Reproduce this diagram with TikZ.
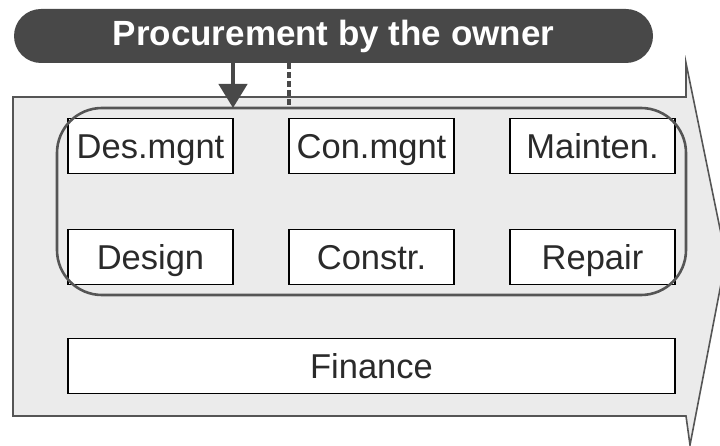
\documentclass[tikz,border=0pt]{standalone}
\usepackage{fontspec}
\setmainfont{Liberation Sans}
\usetikzlibrary{arrows.meta}
\definecolor{pill}{HTML}{484848}
\definecolor{arrowfill}{HTML}{EBEBEB}
\definecolor{edge}{HTML}{555555}
\definecolor{txt}{HTML}{2A2A2A}
\tikzset{
  unitbox/.style={draw=black, line width=1.4pt, fill=white, minimum width=165pt, minimum height=55pt, inner sep=0pt, text=txt, text height=24.5pt, text depth=0pt, font=\fontsize{34.5}{38}\selectfont},
  widebox/.style={unitbox, minimum width=607pt},
  groupline/.style={draw=edge, line width=2.6pt, rounded corners=45pt},
  bodyline/.style={draw=edge, line width=1.6pt, fill=arrowfill},
  linkarrow/.style={draw=pill, line width=4.5pt, -{Triangle[length=24pt,width=28pt]}},
  linkdash/.style={draw=pill, line width=4pt, dash pattern=on 6pt off 3pt}
}
\begin{document}
\begin{tikzpicture}[x=1pt,y=-1pt]
\useasboundingbox (0,0) rectangle (720,446);
% big arrow
\draw[bodyline] (13,97) -- (686,97) -- (686,63) -- (726,258) -- (690,445) -- (686,416) -- (13,416) -- cycle;
% title pill
\node[fill=pill, rounded corners=27pt, minimum width=639pt, minimum height=54pt, inner sep=0pt, text=white, font=\bfseries\fontsize{35}{38}\selectfont] (owner) at (333.5,36) {Procurement by the owner};
% boxes
\node[unitbox] (desmgnt) at (150.5,146) {Des.mgnt};
\node[unitbox] (conmgnt) at (371.5,146) {Con.mgnt};
\node[unitbox] (mainten) at (592.5,146) {Mainten.};
\node[unitbox] (design) at (150.5,257) {Design};
\node[unitbox] (constr) at (371.5,257) {Constr.};
\node[unitbox] (repair) at (592.5,257) {Repair};
\node[widebox] (finance) at (371.5,366) {Finance};
% group outline
\draw[groupline] (57,108) rectangle (686,295);
\coordinate (g1) at (233,108);
\coordinate (g2) at (289,108);
\draw[linkarrow] (owner.south -| g1) -- (g1);
\draw[linkdash] (owner.south -| g2) -- (g2);
\end{tikzpicture}
\end{document}
